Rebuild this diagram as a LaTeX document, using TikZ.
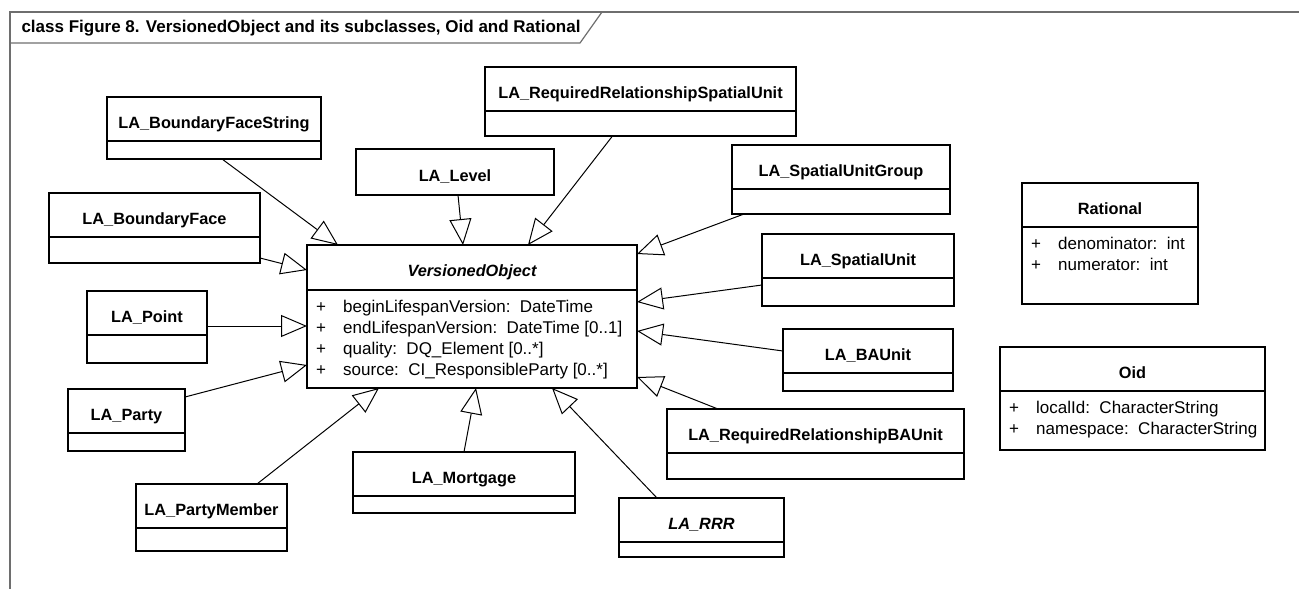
\documentclass[tikz,border=0pt]{standalone}
\usepackage{fontspec}
\setmainfont{Liberation Sans}
\usetikzlibrary{arrows.meta,positioning}

\begin{document}
\begin{tikzpicture}[x=1pt, y=-1pt, >={Triangle[open,length=26pt,width=22pt]}]

\definecolor{framegray}{RGB}{110,110,110}

\useasboundingbox (0,0) rectangle (1299,589);

\tikzset{
    cls/.style={
        draw, line width=1.2pt, anchor=north west, outer sep=0pt, inner sep=0pt,
        minimum width=#1, minimum height=44pt, text height=18pt, text depth=0pt,
        font=\bfseries\fontsize{16.3}{19}\selectfont
    },
    cmp/.style={
        draw, line width=1.2pt, outer sep=0pt, inner sep=0pt, minimum width=#1
    },
    attr/.style={
        anchor=north west, inner sep=0pt, font=\fontsize{17}{21}\selectfont
    },
    gen/.style={->, line width=1pt}
}

% Frame and title tab
\draw[framegray, line width=1.2pt] (10,589) -- (10,12) -- (1299,12);
\draw[framegray, line width=1.2pt] (10,43) -- (580,43) -- (602,12);
\node[anchor=west, font=\bfseries\fontsize{17}{20}\selectfont] (title) at (18,28)
    {class Figure 8. VersionedObject and its subclasses, Oid and Rational};

% VersionedObject
\node[cls=330pt, minimum height=45pt, font=\bfseries\itshape\fontsize{16.3}{19}\selectfont] (vo) at (307,245) {VersionedObject};
\node[cmp=330pt, minimum height=98pt, below=0pt of vo] (vo-a) {};
\node[attr] (vo-t) at ([xshift=9pt, yshift=-7.5pt]vo-a.north west) {%
    \begin{tabular}{@{}p{27pt}@{}l@{}}
    + & beginLifespanVersion:\ \ DateTime\\
    + & endLifespanVersion:\ \ DateTime [0..1]\\
    + & quality:\ \ DQ\_Element [0..*]\\
    + & source:\ \ CI\_ResponsibleParty [0..*]
    \end{tabular}};

% Subclasses, left side
\node[cls=214pt] (bfs) at (107,97) {LA\_BoundaryFaceString};
\node[cmp=214pt, minimum height=18pt, below=0pt of bfs] (bfs-c) {};
\node[cls=211pt] (bf) at (49,193) {LA\_BoundaryFace};
\node[cmp=211pt, minimum height=26pt, below=0pt of bf] (bf-c) {};
\node[cls=120pt] (pt) at (87,291) {LA\_Point};
\node[cmp=120pt, minimum height=28pt, below=0pt of pt] (pt-c) {};
\node[cls=117pt] (party) at (68,389) {LA\_Party};
\node[cmp=117pt, minimum height=18pt, below=0pt of party] (party-c) {};
\node[cls=151pt] (pm) at (136,484) {LA\_PartyMember};
\node[cmp=151pt, minimum height=23pt, below=0pt of pm] (pm-c) {};

% Subclasses, top and bottom
\node[cls=198pt, minimum height=46pt] (lvl) at (356,149) {LA\_Level};
\node[cls=311pt] (rrsu) at (485,67) {LA\_RequiredRelationshipSpatialUnit};
\node[cmp=311pt, minimum height=25pt, below=0pt of rrsu] (rrsu-c) {};
\node[cls=222pt] (mort) at (353,452) {LA\_Mortgage};
\node[cmp=222pt, minimum height=17pt, below=0pt of mort] (mort-c) {};
\node[cls=165pt, font=\bfseries\itshape\fontsize{16.3}{19}\selectfont] (rrr) at (619,498) {LA\_RRR};
\node[cmp=165pt, minimum height=15pt, below=0pt of rrr] (rrr-c) {};

% Subclasses, right side
\node[cls=218pt] (sug) at (732,145) {LA\_SpatialUnitGroup};
\node[cmp=218pt, minimum height=25pt, below=0pt of sug] (sug-c) {};
\node[cls=192pt] (su) at (762,234) {LA\_SpatialUnit};
\node[cmp=192pt, minimum height=28pt, below=0pt of su] (su-c) {};
\node[cls=170pt] (ba) at (783,329) {LA\_BAUnit};
\node[cmp=170pt, minimum height=18pt, below=0pt of ba] (ba-c) {};
\node[cls=297pt] (rrba) at (667,409) {LA\_RequiredRelationshipBAUnit};
\node[cmp=297pt, minimum height=26pt, below=0pt of rrba] (rrba-c) {};

% Rational and Oid
\node[cls=176pt] (rat) at (1022,183) {Rational};
\node[cmp=176pt, minimum height=77pt, below=0pt of rat] (rat-a) {};
\node[attr] (rat-t) at ([xshift=9pt, yshift=-7.5pt]rat-a.north west) {%
    \begin{tabular}{@{}p{27pt}@{}l@{}}
    + & denominator:\ \ int\\
    + & numerator:\ \ int
    \end{tabular}};
\node[cls=265pt] (oid) at (1000,347) {Oid};
\node[cmp=265pt, minimum height=59pt, below=0pt of oid] (oid-a) {};
\node[attr] (oid-t) at ([xshift=9pt, yshift=-7.5pt]oid-a.north west) {%
    \begin{tabular}{@{}p{27pt}@{}l@{}}
    + & localId:\ \ CharacterString\\
    + & namespace:\ \ CharacterString
    \end{tabular}};

% Generalizations
\draw[gen] ([xshift=8pt]bfs-c.south) -- ([xshift=31pt]vo.north west);
\draw[gen] ([yshift=-8pt]bf-c.east) -- ([yshift=-25pt]vo.north west);
\draw[gen] ([yshift=-13pt]pt.east) -- ([yshift=-36pt]vo-a.north west);
\draw[gen] ([yshift=-8pt]party.north east) -- ([yshift=-75pt]vo-a.north west);
\draw[gen] ([xshift=-30pt]pm.north east) -- ([xshift=72pt]vo-a.south west);
\draw[gen] (mort.north) -- ([xshift=169pt]vo-a.south west);
\draw[gen] ([xshift=38pt]rrr.north west) -- ([xshift=245pt]vo-a.south west);
\draw[gen] ([xshift=51pt]rrba.north west) -- ([yshift=-87pt]vo-a.north east);
\draw[gen] (ba.west) -- ([yshift=-41pt]vo-a.north east);
\draw[gen] ([yshift=7pt]su-c.west) -- ([yshift=-12pt]vo-a.north east);
\draw[gen] ([xshift=12pt]sug-c.south west) -- ([yshift=-9pt]vo.north east);
\draw[gen] ([xshift=-28pt]rrsu-c.south) -- ([xshift=221pt]vo.north west);
\draw[gen] ([xshift=3pt]lvl.south) -- ([xshift=156pt]vo.north west);

\end{tikzpicture}
\end{document}
